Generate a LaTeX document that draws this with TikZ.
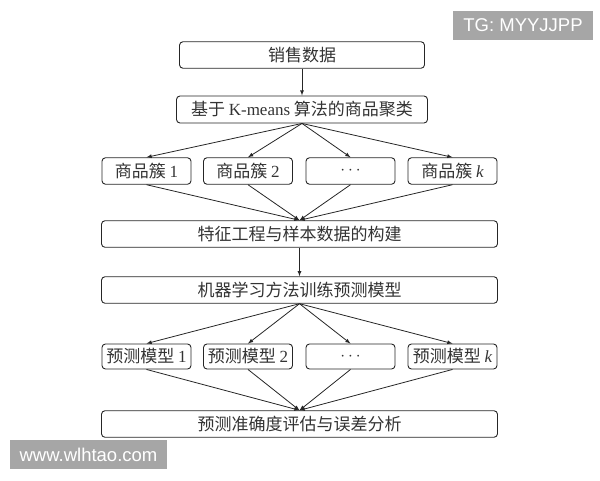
\documentclass[tikz,border=0pt]{standalone}
\usepackage{fontspec}
\setmainfont{Liberation Serif}
\newfontfamily\cjk{Noto Sans CJK SC}
\newfontfamily\filigranafont{Liberation Sans}
\usetikzlibrary{arrows.meta}

\begin{document}
\begin{tikzpicture}[x = 1pt, y = -1pt,
    scatola/.style = {draw = black!85, line width = 0.9pt, rounded corners = 3.5pt, inner sep = 0pt, text = black!80, font = \fontsize{17}{20}\selectfont\cjk},
    freccia/.style = {-latex, line width = 0.8pt, draw = black!85},
    filigrana/.style = {fill = black!35, text = white, inner sep = 0pt, font = \fontsize{18.5}{22}\selectfont\filigranafont}]
    % Parametri
    \pgfmathsetmacro{\larga}{396}
    \pgfmathsetmacro{\piccola}{89}
    \pgfmathsetmacro{\alta}{26.5}
    \useasboundingbox (0,0) rectangle (600,480);

    % Blocchi in alto
    \node[scatola, minimum width = 245, minimum height = \alta] (dati) at (302,55) {销售数据};
    \node[scatola, minimum width = 251, minimum height = 27] (kmeans) at (302,109.5) {基于 {\rmfamily K-means} 算法的商品聚类};
    % cluster
    \node[scatola, minimum width = \piccola, minimum height = \alta] (clu1) at (146.5,171) {商品簇 {\rmfamily 1}};
    \node[scatola, minimum width = \piccola, minimum height = \alta] (clu2) at (248,171) {商品簇 {\rmfamily 2}};
    \node[scatola, minimum width = \piccola, minimum height = \alta] (clu3) at (350.5,171) {$\cdots$};
    \node[scatola, minimum width = \piccola, minimum height = \alta] (cluk) at (452.5,171) {商品簇 {\rmfamily\itshape k}};
    \node[scatola, minimum width = \larga, minimum height = \alta] (feat) at (299.5,234) {特征工程与样本数据的构建};
    \node[scatola, minimum width = \larga, minimum height = \alta] (ml) at (299.5,290) {机器学习方法训练预测模型};
    % modelli
    \node[scatola, minimum width = \piccola, minimum height = 25] (mod1) at (146.5,356.5) {预测模型 {\rmfamily 1}};
    \node[scatola, minimum width = \piccola, minimum height = 25] (mod2) at (248,356.5) {预测模型 {\rmfamily 2}};
    \node[scatola, minimum width = \piccola, minimum height = 25] (mod3) at (350.5,356.5) {$\cdots$};
    \node[scatola, minimum width = \piccola, minimum height = 25] (modk) at (452.5,356.5) {预测模型 {\rmfamily\itshape k}};
    \node[scatola, minimum width = \larga, minimum height = \alta] (valuta) at (299.5,424) {预测准确度评估与误差分析};

    % Frecce
    \draw[freccia] (dati) -- (kmeans);
    \draw[freccia] (kmeans.south) -- (clu1.north);
    \draw[freccia] (kmeans.south) -- (clu2.north);
    \draw[freccia] (kmeans.south) -- (clu3.north);
    \draw[freccia] (kmeans.south) -- (cluk.north);
    \draw[freccia] (clu1.south) -- (feat.north);
    \draw[freccia] (clu2.south) -- (feat.north);
    \draw[freccia] (clu3.south) -- (feat.north);
    \draw[freccia] (cluk.south) -- (feat.north);
    \draw[freccia] (feat) -- (ml);
    \draw[freccia] (ml.south) -- (mod1.north);
    \draw[freccia] (ml.south) -- (mod2.north);
    \draw[freccia] (ml.south) -- (mod3.north);
    \draw[freccia] (ml.south) -- (modk.north);
    \draw[freccia] (mod1.south) -- (valuta.north);
    \draw[freccia] (mod2.south) -- (valuta.north);
    \draw[freccia] (mod3.south) -- (valuta.north);
    \draw[freccia] (modk.south) -- (valuta.north);

    % Filigrane
    \node[filigrana, minimum width = 140, minimum height = 29] (tg) at (523,25) {TG: MYYJJPP};
    \node[filigrana, minimum width = 157, minimum height = 29] (sito) at (88.5,454.5) {www.wlhtao.com};
\end{tikzpicture}
\end{document}
